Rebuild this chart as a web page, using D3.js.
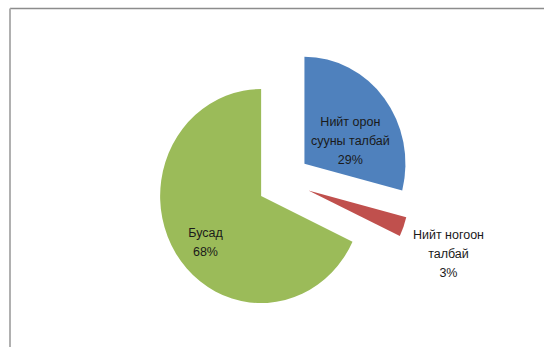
<!DOCTYPE html>
<html>
<head>
<meta charset="utf-8">
<script src="https://cdn.jsdelivr.net/npm/d3@7/dist/d3.min.js"></script>
<style>
  html, body { margin: 0; padding: 0; background: #fff; }
  svg { display: block; }
  text { font-family: "Liberation Sans", "DejaVu Sans", sans-serif; fill: #1a1a1a; }
</style>
</head>
<body>
<svg id="chart" width="544" height="347"></svg>
<script>
// Land-use shares (percent)
const categories = ["Нийт орон сууны талбай", "Нийт ногоон талбай", "Бусад"];
const values = [29, 3, 68];
const labelLines = [
  ["Нийт орон", "сууны талбай", "29%"],
  ["Нийт ногоон", "талбай", "3%"],
  ["Бусад", "68%"]
];
const colors = ["#4f81bd", "#c0504d", "#9bbb59"];

const W = 544, H = 347;
const cx = 283.5, cy = 181;        // pie centre
const r = 101;                      // radius
const yStretch = 1.06;              // slight vertical stretch of the plot
const explode = 26.5;               // slice pull-out distance

const svg = d3.select("#chart");

// chart frame (top and left edges)
svg.append("line").attr("x1", 10).attr("y1", 8.5).attr("x2", W).attr("y2", 8.5)
  .attr("stroke", "#8c8c8c").attr("stroke-width", 1.5);
svg.append("line").attr("x1", 10).attr("y1", 8.5).attr("x2", 10).attr("y2", H)
  .attr("stroke", "#b0b0b0").attr("stroke-width", 2);

const pie = d3.pie().sort(null).value(d => d).startAngle(0).endAngle(2 * Math.PI);
const arcs = pie(values);
const arc = d3.arc().innerRadius(0).outerRadius(r);

const g = svg.append("g")
  .attr("transform", `translate(${cx},${cy}) scale(1,${yStretch})`);

function bis(d) { return (d.startAngle + d.endAngle) / 2; }

g.selectAll("path.slice")
  .data(arcs)
  .join("path")
  .attr("class", "slice")
  .attr("d", arc)
  .attr("fill", (d, i) => colors[i])
  .attr("transform", d => {
    const a = bis(d);
    return `translate(${explode * Math.sin(a)},${-explode * Math.cos(a)})`;
  });

// label placement: radius factor along bisector plus a small nudge (screen px)
const labelPlace = [
  { k: 0.5, dx: 6, dy: 10 },
  { k: 1.4, dx: 7, dy: 12 },
  { k: 0.5, dx: -13, dy: 17 }
];
const lineH = 19;

arcs.forEach((d, i) => {
  const a = bis(d);
  const p = labelPlace[i];
  const rr = explode + p.k * r;
  const x = cx + rr * Math.sin(a) + p.dx;
  const y = cy - rr * Math.cos(a) * yStretch + p.dy;
  const lines = labelLines[i];
  const t = svg.append("text")
    .attr("text-anchor", "middle")
    .attr("font-size", 12.5);
  lines.forEach((s, j) => {
    t.append("tspan")
      .attr("x", x)
      .attr("y", y + (j - (lines.length - 1) / 2) * lineH)
      .attr("dy", "0.35em")
      .text(s);
  });
});
</script>
</body>
</html>
